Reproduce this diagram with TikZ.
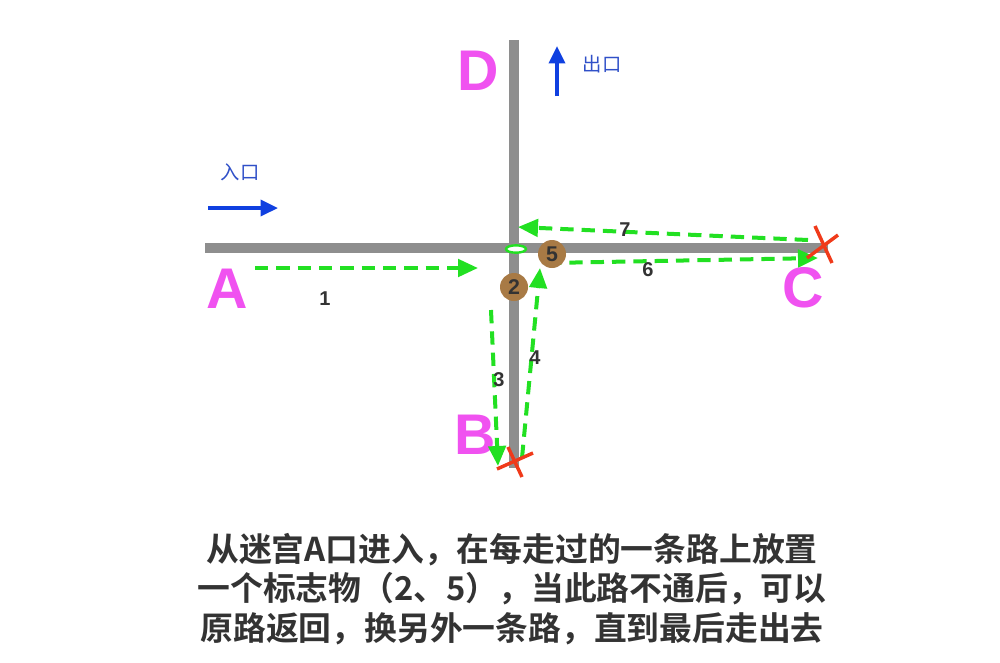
\documentclass[tikz,border=0pt]{standalone}
\usepackage{fontspec}
\setmainfont{Liberation Sans}
\newfontfamily\cjk{Noto Sans CJK SC}
\newfontfamily\cjkb{Noto Sans CJK SC Bold}
\usetikzlibrary{arrows.meta,calc,shapes.geometric}
\definecolor{road}{HTML}{8E8E8E}
\definecolor{mag}{HTML}{F052F0}
\definecolor{blu}{HTML}{1040E0}
\definecolor{btx}{HTML}{3050C8}
\definecolor{grn}{HTML}{22E022}
\definecolor{brn}{HTML}{A87A45}
\definecolor{txt}{HTML}{333333}
\definecolor{rd}{HTML}{F03A1A}
\tikzset{
  roadline/.style={road, line width=7.5pt},
  letter/.style={mag, font=\fontsize{43}{43}\selectfont\bfseries, inner sep=0},
  num/.style={txt, font=\fontsize{15}{15}\selectfont\bfseries, inner sep=0},
  marker/.style={circle, fill=brn, minimum size=21pt, inner sep=0, text=txt, font=\fontsize{16}{16}\selectfont\bfseries},
  gpath/.style={grn, line width=3pt, dash pattern=on 10pt off 6pt, -{Triangle[length=15pt,width=13pt]}},
  bpath/.style={blu, line width=2.6pt, -{Triangle[length=13pt,width=12pt]}},
  btxt/.style={btx, font=\cjk\fontsize{14.5}{14.5}\selectfont, inner sep=0},
  cross/.style={rd, line width=2.6pt},
}
\begin{document}
\begin{tikzpicture}[x=0.75pt,y=-0.75pt]
\useasboundingbox (0,0) rectangle (1000,662);
% roads
\coordinate (rw) at (205,248);
\coordinate (re) at (828,248);
\coordinate (rn) at (514,40);
\coordinate (rs) at (514,468);
\draw[roadline] (rw) -- (re);
\draw[roadline] (rn) -- (rs);
% letters
\node[letter] (A) at (227,289) {A};
\node[letter] (D) at (478,71) {D};
\node[letter] (B) at (475,435) {B};
\node[letter] (C) at (803,288) {C};
% entry / exit
\coordinate (in1) at (208,208);
\coordinate (in2) at (278,208);
\draw[bpath] (in1) -- (in2);
\node[btxt] (intxt) at (240,172) {入口};
\coordinate (out1) at (557,96);
\coordinate (out2) at (557,46);
\draw[bpath] (out1) -- (out2);
\node[btxt] (outtxt) at (602,64) {出口};
% green paths
\coordinate (p1a) at (255,268);
\coordinate (p1b) at (478,268);
\draw[gpath] (p1a) -- (p1b);
\coordinate (p3a) at (491,310);
\coordinate (p3b) at (498,466);
\draw[gpath] (p3a) -- (p3b);
\coordinate (p4a) at (522,458);
\coordinate (p4b) at (540,268);
\draw[gpath] (p4a) -- (p4b);
\coordinate (p6a) at (548,263);
\coordinate (p6b) at (818,258);
\draw[gpath] (p6a) -- (p6b);
\coordinate (p7a) at (808,240);
\coordinate (p7b) at (518,227);
\draw[gpath] (p7a) -- (p7b);
% numbers
\node[num] (n1) at (325,299) {1};
\node[num] (n3) at (499,380) {3};
\node[num] (n4) at (535,358) {4};
\node[num] (n6) at (648,270) {6};
\node[num] (n7) at (625,230) {7};
% markers
\node[marker] (m2) at (514,287) {2};
\node[marker] (m5) at (552,254) {5};
\node[draw=grn, fill=white, line width=1.8pt, ellipse, minimum width=15pt, minimum height=5.5pt, inner sep=0] (ov) at (516,249) {};
% crosses
\coordinate (xb) at (515,462);
\draw[cross] ($(xb)+(-18,7)$) -- ($(xb)+(18,-9)$);
\draw[cross] ($(xb)+(-7,-15)$) -- ($(xb)+(7,15)$);
\coordinate (xc) at (823,245);
\draw[cross] ($(xc)+(-16,13)$) -- ($(xc)+(15,-10)$);
\draw[cross] ($(xc)+(-8,-19)$) -- ($(xc)+(9,18)$);
% caption
\node[txt, font=\cjkb\fontsize{24.6}{29.5}\selectfont, align=center, inner sep=0] (cap) at (512,589)
  {从迷宫A口进入，在每走过的一条路上放置\\一个标志物（2、5），当此路不通后，可以\\原路返回，换另外一条路，直到最后走出去};
\end{tikzpicture}
\end{document}
